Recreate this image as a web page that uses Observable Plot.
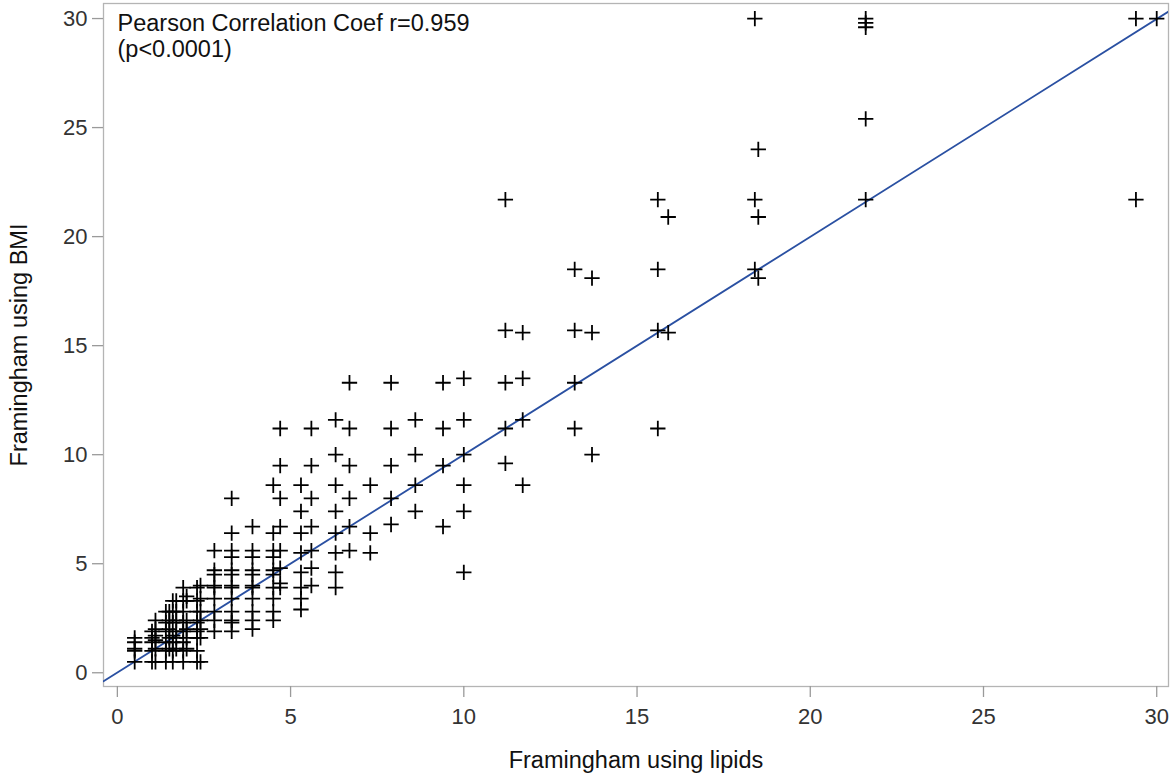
<!DOCTYPE html>
<html>
<head>
<meta charset="utf-8">
<script src="https://cdn.jsdelivr.net/npm/d3@7"></script>
<script src="https://cdn.jsdelivr.net/npm/@observablehq/plot@0.6"></script>
<style>
  html, body { margin: 0; padding: 0; background: #fff; }
  #chart { width: 1171px; height: 774px; }
</style>
</head>
<body>
<div id="chart"></div>
<script>
// Framingham risk using lipids (x) — one entry per column of points
const lipidScore = [0.5, 1.0, 1.1, 1.4, 1.5, 1.6, 1.7, 1.9, 2.0, 2.3, 2.4, 2.8, 3.3, 3.9, 4.5, 4.7, 5.3, 5.6, 6.3, 6.7, 7.3, 7.9, 8.6, 9.4, 10.0, 11.2, 11.7, 13.2, 13.7, 15.6, 15.9, 18.4, 18.5, 21.6, 29.4, 30.0];
// Framingham risk using BMI (y) for the points in each lipid column
const bmiScores = [
  [0.5, 1.0, 1.1, 1.4, 1.6],
  [0.5, 1.0, 1.4, 1.6, 1.9],
  [0.5, 1.1, 1.5, 1.7, 2.0, 2.4],
  [0.5, 1.0, 1.4, 1.9, 2.3, 2.8],
  [1.1, 1.6, 2.0, 2.4, 2.8],
  [0.5, 1.0, 1.4, 1.7, 2.3, 2.8, 3.3],
  [1.1, 1.6, 1.9, 2.4, 2.8, 3.3],
  [0.5, 1.0, 1.4, 1.9, 2.3, 2.8, 3.3, 3.9],
  [1.1, 1.6, 2.0, 2.4, 3.3, 3.5],
  [0.5, 1.0, 1.6, 1.9, 2.3, 2.8, 3.3, 3.9],
  [0.5, 1.6, 2.0, 2.4, 2.8, 3.4, 4.0],
  [1.9, 2.4, 2.8, 3.4, 3.9, 4.0, 4.5, 4.7, 5.6],
  [1.9, 2.3, 2.4, 2.8, 3.4, 3.9, 4.0, 4.5, 4.7, 5.3, 5.6, 6.4, 8.0],
  [2.0, 2.4, 2.8, 3.4, 3.9, 4.0, 4.5, 4.7, 5.3, 5.6, 6.7],
  [2.4, 2.8, 3.4, 3.9, 4.5, 4.7, 5.3, 5.6, 6.4, 8.6],
  [3.9, 4.1, 4.8, 5.6, 6.7, 8.0, 9.5, 11.2],
  [2.9, 3.4, 3.9, 4.6, 5.5, 6.4, 7.4, 8.6],
  [4.0, 4.8, 5.6, 6.7, 8.0, 9.5, 11.2],
  [3.9, 4.6, 5.5, 6.4, 7.4, 8.6, 10.0, 11.6],
  [5.6, 6.7, 8.0, 9.5, 11.2, 13.3],
  [5.5, 6.4, 8.6],
  [6.8, 8.0, 9.5, 11.2, 13.3],
  [7.4, 8.6, 10.0, 11.6],
  [6.7, 9.5, 11.2, 13.3],
  [4.6, 7.4, 8.6, 10.0, 11.6, 13.5],
  [9.6, 11.2, 13.3, 15.7, 21.7],
  [8.6, 11.6, 13.5, 15.6],
  [11.2, 13.3, 15.7, 18.5],
  [10.0, 15.6, 18.1],
  [11.2, 15.7, 18.5, 21.7],
  [15.6, 20.9],
  [18.5, 21.7, 30.0],
  [18.1, 20.9, 24.0],
  [21.7, 25.4, 29.6, 29.8, 30.0],
  [21.7, 30.0],
  [30.0]
];
const xTicks = [0, 5, 10, 15, 20, 25, 30];
const yTicks = [0, 5, 10, 15, 20, 25, 30];
const xDomain = [-0.40, 30.34];
const yDomain = [-0.63, 30.69];
const fitIntercept = 0.01;
const fitSlope = 0.999;
const xTitle = "Framingham using lipids";
const yTitle = "Framingham using BMI";
const noteLines = ["Pearson Correlation Coef r=0.959", "(p<0.0001)"];

const points = lipidScore.flatMap((x, i) => bmiScores[i].map(y => ({x, y})));
const fitLine = xDomain.map(x => ({x, y: fitIntercept + fitSlope * x}));

const font = "'Liberation Sans', Arial, sans-serif";
const chart = Plot.plot({
  width: 1171,
  height: 774,
  marginLeft: 103,
  marginRight: 3,
  marginTop: 3,
  marginBottom: 88,
  style: {fontFamily: font, fontSize: "22px", background: "#fff", color: "#222"},
  x: {domain: xDomain},
  y: {domain: yDomain},
  marks: [
    Plot.frame({stroke: "#b4b4b4", strokeWidth: 1.3}),
    Plot.axisX({ticks: xTicks, tickSize: 11, tickPadding: 11, stroke: "#9a9a9a", strokeWidth: 1.3, fill: "#333", label: null, fontSize: 22}),
    Plot.axisY({ticks: yTicks, tickSize: 11, tickPadding: 5, stroke: "#9a9a9a", strokeWidth: 1.3, fill: "#333", label: null, fontSize: 22}),
    Plot.line(fitLine, {x: "x", y: "y", stroke: "#2a50a2", strokeWidth: 1.8, clip: true}),
    Plot.dot(points, {x: "x", y: "y", symbol: "plus", r: 5, stroke: "#000", strokeWidth: 1.8}),
    Plot.text([noteLines.join("\n")], {frameAnchor: "top-left", dx: 14, dy: 9, textAnchor: "start", lineAnchor: "top", lineHeight: 1.1, fontSize: 23.5, fill: "#111"}),
    Plot.text([xTitle], {frameAnchor: "bottom", dy: 74, textAnchor: "middle", lineAnchor: "middle", fontSize: 23.5, fill: "#111"}),
    Plot.text([yTitle], {frameAnchor: "left", dx: -84, rotate: -90, textAnchor: "middle", lineAnchor: "middle", fontSize: 23.5, fill: "#111"})
  ]
});
document.getElementById("chart").appendChild(chart);
</script>
</body>
</html>
